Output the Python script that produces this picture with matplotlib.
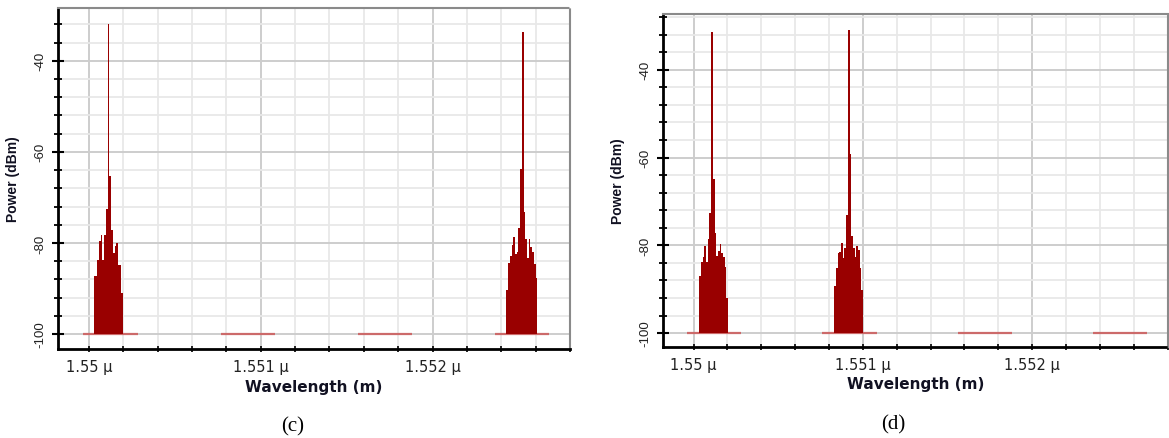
import numpy as np
import matplotlib.pyplot as plt
from matplotlib.ticker import FixedLocator, MultipleLocator, FuncFormatter

plt.rcParams["axes.unicode_minus"] = False

# spectral bin width of the analyser trace (um)
BIN = 0.00001
FLOOR = -100.0

XLIM = (1.54982, 1.5528)
XTICKS = [1.55, 1.551, 1.552]
YTICKS = [-100, -80, -60, -40]

# ---- panel (c): channels 1 and 4 carry power ----
C_START = [1.550029, 1.552430]
C_POWER = [
    [-87.2, -87.2, -83.7, -79.6, -78.3, -83.7, -78.3, -72.6, -32.0,
     -65.2, -77.2, -82.2, -80.7, -80.0, -84.8, -84.8, -91.1],
    [-90.4, -84.3, -82.9, -80.4, -78.8, -82.4, -81.9, -76.8, -63.8,
     -33.6, -73.3, -79.2, -83.4, -79.2, -81.0, -81.9, -84.7, -87.6],
]
C_FLOOR_FROM = [1.549965, 1.550767, 1.551564, 1.552366]
C_FLOOR_TO = [1.550285, 1.551081, 1.551878, 1.552680]
C_YLIM = (-103.3, -28.4)

# ---- panel (d): channels 1 and 2 carry power ----
D_START = [1.550034, 1.550831]
D_POWER = [
    [-87.1, -83.7, -82.6, -80.2, -83.8, -78.5, -72.6, -31.3, -65.0,
     -77.3, -82.4, -81.3, -79.8, -81.7, -82.7, -85.0, -92.0],
    [-89.2, -85.2, -81.7, -81.5, -79.5, -82.9, -80.6, -73.2, -30.9,
     -59.2, -77.8, -80.6, -82.7, -80.1, -81.0, -85.2, -90.1],
]
D_FLOOR_FROM = [1.549963, 1.550759, 1.551562, 1.552361]
D_FLOOR_TO = [1.550282, 1.551083, 1.551881, 1.552678]
D_YLIM = (-103.1, -27.3)

RED = "#990000"
FLOOR_RED = "#cc6a6a"


def draw_panel(ax, starts, powers, f_from, f_to, ylim):
    ax.hlines([FLOOR] * len(f_from), f_from, f_to, color=FLOOR_RED,
              lw=1.6, zorder=3)
    for start, pw in zip(starts, powers):
        pw = np.array(pw)
        x = start + np.arange(len(pw)) * BIN
        ax.bar(x, pw - FLOOR, bottom=FLOOR, width=BIN, align="edge",
               color=RED, edgecolor="none", linewidth=0, zorder=4)

    ax.set_xlim(*XLIM)
    ax.set_ylim(*ylim)
    ax.xaxis.set_major_locator(FixedLocator(XTICKS))
    ax.xaxis.set_minor_locator(MultipleLocator(0.0002))
    ax.xaxis.set_major_formatter(FuncFormatter(lambda v, p: f"{v:g} \u03bc"))
    ax.yaxis.set_major_locator(FixedLocator(YTICKS))
    ax.yaxis.set_minor_locator(MultipleLocator(4))

    ax.grid(which="minor", color="#e8e8e8", lw=1.3, zorder=0)
    ax.grid(which="major", color="#cdcdcd", lw=1.4, zorder=0)
    ax.set_axisbelow(True)

    ax.tick_params(axis="x", which="major", direction="inout", length=5,
                   width=1.2, pad=5, labelsize=10.5, labelcolor="#222222")
    ax.tick_params(axis="x", which="minor", direction="inout", length=4,
                   width=1.2)
    ax.tick_params(axis="y", which="major", direction="inout", length=9,
                   width=1.5, pad=4, labelsize=9.5, labelrotation=90,
                   labelcolor="#222222")
    ax.tick_params(axis="y", which="minor", direction="inout", length=6,
                   width=1.3)
    for t in ax.get_xticklabels():
        t.set_family("DejaVu Sans")
    for t in ax.get_yticklabels():
        t.set_family("Liberation Sans")
        t.set_va("center")

    ax.spines["left"].set_linewidth(2)
    ax.spines["left"].set_color("black")
    ax.spines["bottom"].set_linewidth(2)
    ax.spines["bottom"].set_linestyle((0, (1, 1)))
    ax.spines["bottom"].set_color("black")
    for s in ("top", "right"):
        ax.spines[s].set_linewidth(1.5)
        ax.spines[s].set_linestyle((0, (1, 1)))
        ax.spines[s].set_color("#8a8a8a")

    ax.set_xlabel("Wavelength (m)", family="DejaVu Sans", weight="bold",
                  size=11, color="#111122")
    ax.set_ylabel("Power (dBm)", family="Liberation Sans", weight="bold",
                  size=10, color="#111122")


fig = plt.figure(figsize=(11.69, 4.39), dpi=100)
ax_c = fig.add_axes([0.0496, 0.2027, 0.4380, 0.7768])
ax_d = fig.add_axes([0.5672, 0.2080, 0.4317, 0.7578])

draw_panel(ax_c, C_START, C_POWER, C_FLOOR_FROM, C_FLOOR_TO, C_YLIM)
draw_panel(ax_d, D_START, D_POWER, D_FLOOR_FROM, D_FLOOR_TO, D_YLIM)

ax_c.xaxis.set_label_coords(0.5, -0.088)
ax_c.yaxis.set_label_coords(-0.074, 0.5)
ax_d.xaxis.set_label_coords(0.5, -0.088)
ax_d.yaxis.set_label_coords(-0.075, 0.5)

fig.text(293 / 1169, 1 - 427 / 439, "(c)", ha="center", va="center",
         family="Liberation Serif", size=15)
fig.text(893 / 1169, 1 - 425 / 439, "(d)", ha="center", va="center",
         family="Liberation Serif", size=15)

fig.savefig("out.png", dpi=100)
